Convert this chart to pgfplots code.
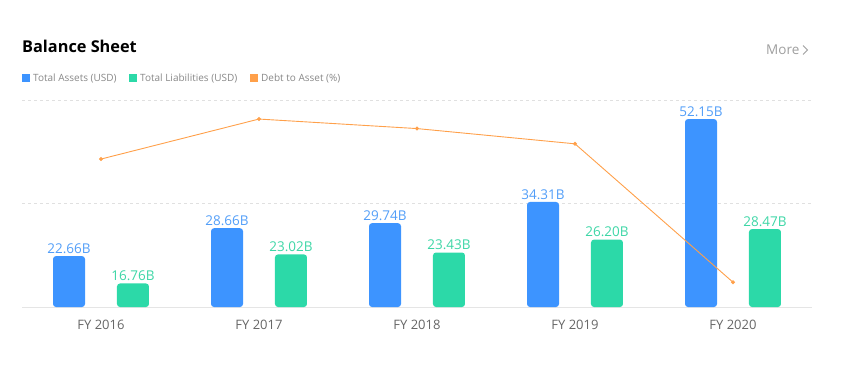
\documentclass[border=0pt]{standalone}
\usepackage{fontspec}
\setmainfont{Open Sans}
\usepackage{pgfplots}
\pgfplotsset{compat=1.18}
\definecolor{cblue}{HTML}{3D94FF}
\definecolor{cgreen}{HTML}{2CD9A8}
\definecolor{corange}{HTML}{FFA04A}
\definecolor{tblue}{HTML}{529EF8}
\definecolor{tgreen}{HTML}{3DD6A6}
\definecolor{tgray}{HTML}{666666}
\definecolor{lgray}{HTML}{888888}
\begin{document}
\begin{tikzpicture}[x=1pt,y=1pt]
\useasboundingbox (0,0) rectangle (841,376);
\node[anchor=west,inner sep=0pt,font=\fontsize{16.3}{19}\selectfont\bfseries] at (22,330) {Balance Sheet};
\node[anchor=west,inner sep=0pt,text=black!38,font=\fontsize{13.5}{15}\selectfont] at (766,326) {More};
\draw[black!38,line width=1pt] (803,330.5) -- (807.5,326) -- (803,321.5);
% legend
\fill[cblue] (22,294) rectangle (30,302);
\node[anchor=west,inner sep=0pt,text=lgray,font=\fontsize{10}{12}\selectfont] at (33,298) {Total Assets (USD)};
\fill[cgreen] (129,294) rectangle (137,302);
\node[anchor=west,inner sep=0pt,text=lgray,font=\fontsize{10}{12}\selectfont] at (140,298) {Total Liabilities (USD)};
\fill[corange] (250,294) rectangle (258,302);
\node[anchor=west,inner sep=0pt,text=lgray,font=\fontsize{10}{12}\selectfont] at (261,298) {Debt to Asset (\%)};
\begin{axis}[
  at={(22pt,69pt)}, anchor=south west, scale only axis,
  width=790pt, height=207pt,
  xmin=-0.5, xmax=4.5, ymin=11.7, ymax=56.25,
  axis x line*=bottom, axis y line*=left,
  y axis line style={draw=none},
  x axis line style={draw=black!10, line width=1pt},
  xtick={0,1,2,3,4},
  xticklabels={FY 2016,FY 2017,FY 2018,FY 2019,FY 2020},
  xticklabel style={text=tgray, font=\fontsize{13}{15}\selectfont, yshift=-10pt},
  ytick={33.98,56.25}, yticklabels={},
  major tick length=0pt,
  ymajorgrids, grid style={dashed, black!12, line width=0.8pt},
  clip=true,
]
\addplot[ybar, /pgf/bar shift=0pt, bar width=32pt, fill=cblue, draw=none, rounded corners=3pt,
  point meta=explicit symbolic, nodes near coords,
  every node near coord/.append style={text=tblue, font=\fontsize{13.5}{15}\selectfont, yshift=-1pt}]
  coordinates {(-0.2025,22.66) [22.66B] (0.7975,28.66) [28.66B] (1.7975,29.74) [29.74B] (2.7975,34.31) [34.31B] (3.7975,52.15) [52.15B]};
\addplot[ybar, /pgf/bar shift=0pt, bar width=32pt, fill=cgreen, draw=none, rounded corners=3pt,
  point meta=explicit symbolic, nodes near coords,
  every node near coord/.append style={text=tgreen, font=\fontsize{13.5}{15}\selectfont, yshift=-1pt}]
  coordinates {(0.2025,16.76) [16.76B] (1.2025,23.02) [23.02B] (2.2025,23.43) [23.43B] (3.2025,26.20) [26.20B] (4.2025,28.47) [28.47B]};
\end{axis}
\begin{axis}[
  at={(22pt,69pt)}, anchor=south west, scale only axis,
  width=790pt, height=207pt,
  xmin=-0.5, xmax=4.5, ymin=50.7, ymax=83.3,
  hide axis, clip=false,
]
\addplot[corange, line width=0.9pt, mark=*, mark size=1.5pt, mark options={fill=corange, draw=corange}]
  coordinates {(0,74.0) (1,80.3) (2,78.8) (3,76.4) (4,54.6)};
\end{axis}
\end{tikzpicture}
\end{document}
